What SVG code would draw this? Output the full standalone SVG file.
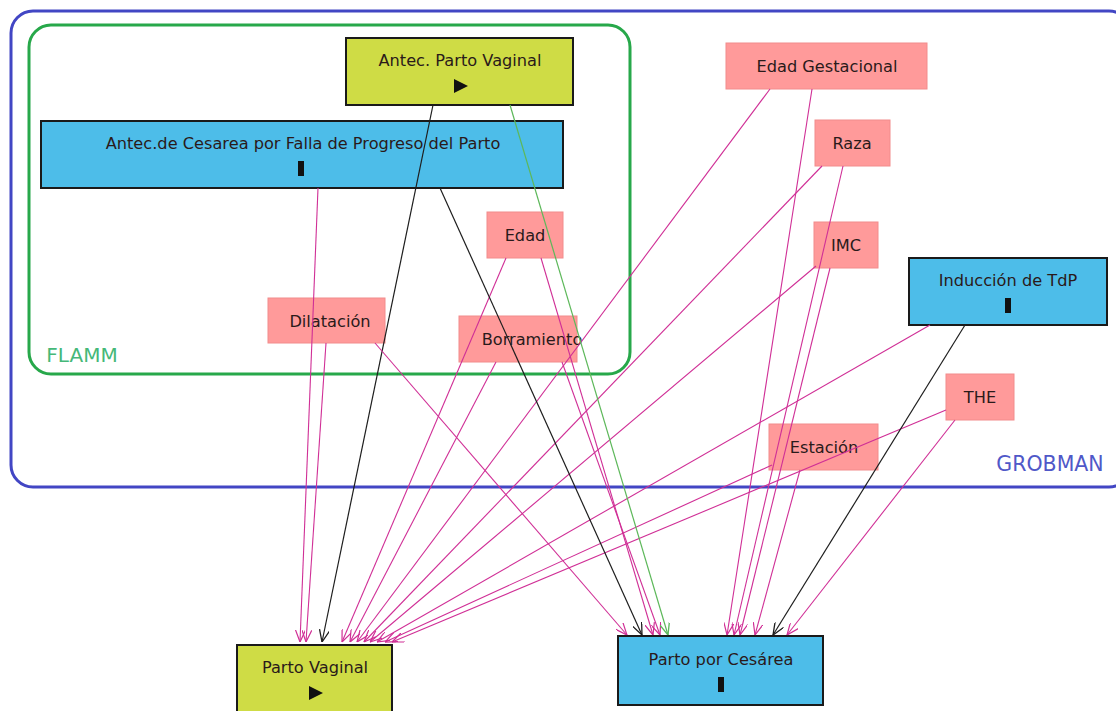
<svg xmlns="http://www.w3.org/2000/svg" width="1116" height="711" viewBox="0 0 1116 711">
<style>
text{font-family:"DejaVu Sans","Liberation Sans",sans-serif;font-size:16.2px;fill:#2a1a1a;text-anchor:middle}
.pink{fill:#ff9a9a;stroke:#f28c8c;stroke-width:1}
.blue{fill:#4dbde9;stroke:#1a1a1a;stroke-width:2}
.yel{fill:#cfdc45;stroke:#1a1a1a;stroke-width:2}
.ep{stroke:#d02f96;stroke-width:1.1;fill:none;marker-end:url(#mp)}
.ek{stroke:#1e1e1e;stroke-width:1.2;fill:none;marker-end:url(#mk)}
.eg{stroke:#5db85a;stroke-width:1.2;fill:none;marker-end:url(#mg)}
</style>
<defs>
<marker id="mp" viewBox="0 0 12 10" refX="12" refY="5" markerWidth="12" markerHeight="10" markerUnits="userSpaceOnUse" orient="auto"><path d="M0,0 L12,5 L0,10" fill="none" stroke="#d02f96" stroke-width="1.2"/></marker>
<marker id="mk" viewBox="0 0 12 10" refX="12" refY="5" markerWidth="12" markerHeight="10" markerUnits="userSpaceOnUse" orient="auto"><path d="M0,0 L12,5 L0,10" fill="none" stroke="#1e1e1e" stroke-width="1.3"/></marker>
<marker id="mg" viewBox="0 0 12 10" refX="12" refY="5" markerWidth="12" markerHeight="10" markerUnits="userSpaceOnUse" orient="auto"><path d="M0,0 L12,5 L0,10" fill="none" stroke="#5db85a" stroke-width="1.3"/></marker>
</defs>
<rect width="1116" height="711" fill="#ffffff"/>
<g id="grobman">
<rect x="11" y="11" width="1120" height="476" rx="22" fill="none" stroke="#4246c4" stroke-width="3"/>
<text x="1050" y="471" style="fill:#5058c8;font-size:20.5px">GROBMAN</text>
</g>
<g id="flamm">
<rect x="29" y="25" width="601" height="349" rx="22" fill="none" stroke="#27a84a" stroke-width="3"/>
<text x="82" y="362" style="fill:#45b878;font-size:20px">FLAMM</text>
</g>
<g id="n-antec-pv"><rect class="yel" x="346" y="38" width="227" height="67"/><text x="460" y="66">Antec. Parto Vaginal</text><polygon points="454,79 468,86 454,93" fill="#111"/></g>
<g id="n-antec-ces"><rect class="blue" x="41" y="121" width="522" height="67"/><text x="303" y="149">Antec.de Cesarea por Falla de Progreso del Parto</text><rect x="298" y="161" width="6" height="15" fill="#111"/></g>
<g id="n-edad-gest"><rect class="pink" x="726" y="43" width="201" height="46"/><text x="827" y="72">Edad Gestacional</text></g>
<g id="n-raza"><rect class="pink" x="815" y="120" width="75" height="46"/><text x="852" y="149">Raza</text></g>
<g id="n-edad"><rect class="pink" x="487" y="212" width="76" height="46"/><text x="525" y="241">Edad</text></g>
<g id="n-imc"><rect class="pink" x="814" y="222" width="64" height="46"/><text x="846" y="251">IMC</text></g>
<g id="n-induccion"><rect class="blue" x="909" y="258" width="198" height="67"/><text x="1008" y="286">Inducción de TdP</text><rect x="1005" y="298" width="6" height="15" fill="#111"/></g>
<g id="n-dilatacion"><rect class="pink" x="268" y="298" width="117" height="45"/><text x="330" y="327">Dilatación</text></g>
<g id="n-borramiento"><rect class="pink" x="459" y="316" width="118" height="46"/><text x="532" y="345">Borramiento</text></g>
<g id="n-the"><rect class="pink" x="946" y="374" width="68" height="46"/><text x="980" y="403">THE</text></g>
<g id="n-estacion"><rect class="pink" x="769" y="424" width="109" height="46"/><text x="824" y="453">Estación</text></g>
<g id="n-parto-vaginal"><rect class="yel" x="237" y="645" width="155" height="75"/><text x="315" y="673">Parto Vaginal</text><polygon points="309,686 323,693 309,700" fill="#111"/></g>
<g id="n-parto-cesarea"><rect class="blue" x="618" y="636" width="205" height="69"/><text x="721" y="665">Parto por Cesárea</text><rect x="718" y="677" width="6" height="15" fill="#111"/></g>
<g id="connectors">
<line class="ep" x1="318" y1="188" x2="300" y2="642"/>
<line class="ep" x1="326" y1="343" x2="306" y2="642"/>
<line class="ek" x1="433" y1="105" x2="322" y2="642"/>
<line class="ep" x1="506" y1="258" x2="342" y2="642"/>
<line class="ep" x1="496" y1="362" x2="350" y2="642"/>
<line class="ep" x1="770" y1="89" x2="357" y2="642"/>
<line class="ep" x1="822" y1="166" x2="364" y2="642"/>
<line class="ep" x1="816" y1="266" x2="370" y2="642"/>
<line class="ep" x1="930" y1="325" x2="377" y2="642"/>
<line class="ep" x1="772" y1="465" x2="385" y2="642"/>
<line class="ep" x1="946" y1="410" x2="392" y2="642"/>
<line class="ep" x1="375" y1="343" x2="627" y2="635"/>
<line class="ek" x1="440" y1="188" x2="642" y2="635"/>
<line class="ep" x1="541" y1="258" x2="653" y2="635"/>
<line class="ep" x1="562" y1="362" x2="660" y2="635"/>
<line class="eg" x1="510" y1="105" x2="668" y2="635"/>
<line class="ep" x1="812" y1="89" x2="727" y2="635"/>
<line class="ep" x1="843" y1="166" x2="734" y2="635"/>
<line class="ep" x1="830" y1="268" x2="740" y2="635"/>
<line class="ep" x1="800" y1="470" x2="755" y2="635"/>
<line class="ek" x1="965" y1="325" x2="773" y2="635"/>
<line class="ep" x1="955" y1="420" x2="787" y2="635"/>
</g>
</svg>
